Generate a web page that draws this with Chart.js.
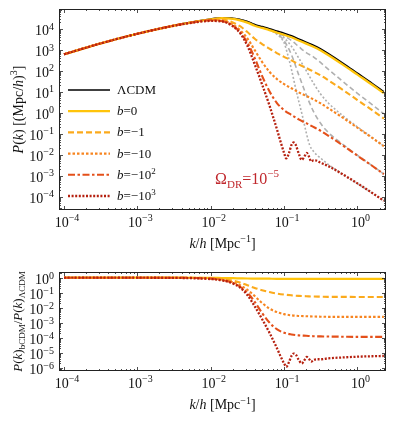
<!DOCTYPE html>
<html>
<head>
<meta charset="utf-8">
<script src="https://cdn.jsdelivr.net/npm/chart.js@4.4.0/dist/chart.umd.min.js"></script>
<style>
html, body { margin: 0; padding: 0; background: #fff; }
#wrap { position: relative; width: 399px; height: 423px; }
#top { position: absolute; left: 0; top: 0; }
#bot { position: absolute; left: 0; top: 255px; }
</style>
</head>
<body>
<div id="wrap">
  <canvas id="top" width="399" height="255"></canvas>
  <canvas id="bot" width="399" height="168"></canvas>
</div>
<script>
// k/h [Mpc^-1] sample points
const kGrid = [1e-4, 3.16e-4, 1e-3, 3.16e-3, 6.31e-3, 0.01, 0.0141, 0.02, 0.0251, 0.0316, 0.0398, 0.0501, 0.0631,
    0.0794, 0.1, 0.126, 0.158, 0.2, 0.251, 0.316, 0.398, 0.631, 1, 1.585, 2.29];
const kFine = [1e-4, 3.16e-4, 1e-3, 3.16e-3, 6.31e-3, 0.01, 0.0141, 0.02, 0.0251, 0.0316, 0.0398, 0.0501, 0.0631,
    0.0708, 0.0794, 0.0891, 0.1, 0.107, 0.117, 0.126, 0.135, 0.145, 0.158, 0.174, 0.191, 0.204, 0.219, 0.234,
    0.251, 0.275, 0.316, 0.398, 0.631, 1, 1.585, 2.29];
const kGray = [0.01, 0.0141, 0.02, 0.0251, 0.0316, 0.0398, 0.0501, 0.0631, 0.0794, 0.1, 0.126, 0.158, 0.2,
    0.251, 0.316, 0.398, 0.631, 1, 1.585, 2.29];
const kGrayFine = [0.01, 0.0141, 0.02, 0.0251, 0.0316, 0.0398, 0.0501, 0.0631, 0.0794, 0.1, 0.112, 0.126, 0.141,
    0.158, 0.178, 0.2, 0.224, 0.251, 0.282, 0.316, 0.398, 0.631, 1, 1.585, 2.29];

// P(k) [(Mpc/h)^3], top panel
const pLCDM = [603, 1995, 5754, 14125, 22390, 28840, 33110, 31620, 27540, 21880, 15850, 12590, 10000, 7762, 6026,
    4571, 3236, 2291, 1622, 1072, 661, 229, 75.9, 25.1, 10.0];
const pB0 = [603, 1995, 5754, 14125, 22130, 28180, 31620, 29510, 25120, 19500, 13960, 10960, 8610, 6607, 5129,
    3890, 2754, 1950, 1380, 912, 562, 195, 64.6, 21.4, 8.51];
const pB1 = [603, 1995, 5754, 14125, 21880, 26920, 27540, 19950, 13180, 6918, 3311, 1862, 1122, 692, 457,
    309, 200, 135, 91.2, 58.9, 35.5, 12.3, 3.98, 1.32, 0.525];
const pB10 = [603, 1995, 5754, 14125, 21380, 25700, 24550, 15850, 8710, 3467, 955, 263, 89.1, 40.7, 22.9,
    14.5, 9.33, 6.31, 4.27, 2.75, 1.66, 0.575, 0.191, 0.0631, 0.0251];
const pB100 = [603, 1995, 5754, 14125, 21380, 25120, 23440, 14125, 6918, 2188, 398, 56.2, 10.5, 2.95, 1.32,
    0.776, 0.479, 0.316, 0.209, 0.135, 0.0813, 0.0275, 0.00891, 0.00295, 0.00117];
const pB1000 = [603, 1995, 5754, 13800, 20420, 23440, 22390, 13180, 6166, 1549, 199.5, 22.4, 2.24, 0.631, 0.174,
    0.0437, 0.0120, 0.00661, 0.0123, 0.0288, 0.0380, 0.0282, 0.0115, 0.00562, 0.00871, 0.0120, 0.00794, 0.00479,
    0.00537, 0.00525, 0.00407, 0.00288, 0.00115, 4.27e-4, 1.51e-4, 6.31e-5];
// grey companion curves
const pGrey1 = [28840, 33110, 31620, 27540, 21380, 15140, 11750, 8913, 6457, 4467, 2754, 1413, 724, 457, 240,
    120, 30.9, 8.32, 2.40, 0.871];
const pGrey10 = [28840, 33110, 31620, 27540, 21880, 15490, 12020, 9120, 6310, 3631, 1445, 407, 102, 25.7, 7.59,
    2.95, 0.724, 0.209, 0.0661, 0.0251];
const pGrey100 = [28840, 33110, 31620, 27540, 21880, 15490, 12020, 8913, 5888, 2692, 575, 64.6, 7.24, 1.15, 0.302,
    0.117, 0.0309, 0.00933, 0.00302, 0.00117];
const pGrey1000 = [28840, 33110, 31620, 27540, 21380, 15490, 11750, 8710, 5495, 2138, 589, 115, 19.5, 3.63, 0.692,
    0.115, 0.0275, 0.0145, 0.00933, 0.00676, 0.00347, 0.00115, 4.17e-4, 1.48e-4, 6.17e-5];

// P(k)_bCDM / P(k)_LCDM, bottom panel
const rB0 = [1, 1, 1, 1, 0.99, 0.98, 0.955, 0.93, 0.91, 0.89, 0.88, 0.87, 0.86, 0.85, 0.85, 0.85, 0.85, 0.85,
    0.85, 0.85, 0.85, 0.85, 0.85, 0.85, 0.85];
const rB1 = [1, 1, 1, 1, 0.977, 0.933, 0.832, 0.631, 0.479, 0.316, 0.209, 0.148, 0.112, 0.0891, 0.0759, 0.0676,
    0.0617, 0.0589, 0.0562, 0.0550, 0.0537, 0.0537, 0.0525, 0.0525, 0.0525];
const rB10 = [1, 1, 1, 1, 0.955, 0.891, 0.741, 0.501, 0.316, 0.158, 0.0603, 0.0209, 0.00891, 0.00525, 0.0038,
    0.00316, 0.00288, 0.00275, 0.00263, 0.00257, 0.00251, 0.00251, 0.00251, 0.00251, 0.00251];
const rB100 = [1, 1, 1, 1, 0.955, 0.871, 0.708, 0.447, 0.251, 0.1, 0.0251, 0.00447, 0.00105, 3.8e-4, 2.19e-4,
    1.7e-4, 1.48e-4, 1.38e-4, 1.29e-4, 1.26e-4, 1.23e-4, 1.2e-4, 1.17e-4, 1.17e-4, 1.17e-4];
const rB1000 = [1, 1, 1, 0.977, 0.912, 0.813, 0.676, 0.417, 0.224, 0.0708, 0.0126, 1.78e-3, 2.24e-4, 7.08e-5,
    2.24e-5, 6.31e-6, 2.0e-6, 1.2e-6, 2.51e-6, 6.31e-6, 9.12e-6, 7.59e-6, 3.55e-6, 2.0e-6, 3.55e-6, 5.37e-6,
    3.98e-6, 2.63e-6, 3.31e-6, 3.80e-6, 3.80e-6, 4.37e-6, 5.01e-6, 5.62e-6, 6.03e-6, 6.31e-6];

// ticks (base^exponent)
const xTickVals = [1e-4, 1e-3, 1e-2, 1e-1, 1];
const xTickText = ['10^−4', '10^−3', '10^−2', '10^−1', '10^0'];
const pTickVals = [1e-4, 1e-3, 1e-2, 1e-1, 1, 10, 100, 1e3, 1e4];
const pTickText = ['10^−4', '10^−3', '10^−2', '10^−1', '10^0', '10^1', '10^2', '10^3', '10^4'];
const rTickVals = [1e-6, 1e-5, 1e-4, 1e-3, 1e-2, 1e-1, 1];
const rTickText = ['10^−6', '10^−5', '10^−4', '10^−3', '10^−2', '10^−1', '10^0'];

const FONT = '"Liberation Serif", "DejaVu Serif", serif';
const grey = '#b0b0b0';
const colors = { lcdm: '#000000', b0: '#ffc40a', b1: '#fbaa1c', b10: '#f7841f', b100: '#e4501a', b1000: '#b5200f' };

function pts(ks, vals) {
    return ks.map((k, i) => ({ x: k, y: vals[i] }));
}

function line(label, ks, vals, color, width, dash, rank) {
    return {
        label: label, data: pts(ks, vals), borderColor: color, borderWidth: width, borderDash: dash,
        pointRadius: 0, fill: false, cubicInterpolationMode: 'monotone', legendRank: rank
    };
}

function drawRuns(ctx, runs, cx, cy, size, color, rotate, align) {
    const fontOf = r => (r.i ? 'italic ' : '') + (r.s ? Math.round(size * 0.7) : size) + 'px ' + FONT;
    const widths = runs.map(r => { ctx.font = fontOf(r); return ctx.measureText(r.t).width; });
    const total = widths.reduce((a, b) => a + b, 0);
    ctx.save();
    ctx.translate(cx, cy);
    if (rotate) ctx.rotate(-Math.PI / 2);
    ctx.fillStyle = color;
    ctx.textAlign = 'left';
    ctx.textBaseline = 'alphabetic';
    let x = align === 'left' ? 0 : align === 'right' ? -total : -total / 2;
    runs.forEach((r, i) => {
        ctx.font = fontOf(r);
        const dy = r.s === 1 ? -size * 0.4 : r.s === -1 ? size * 0.25 : 0;
        ctx.fillText(r.t, x, size * 0.35 + dy);
        x += widths[i];
    });
    ctx.restore();
}

function powRuns(txt) {
    const [base, exp] = txt.split('^');
    return [{ t: base }, { t: exp, s: 1 }];
}

function logSteps(min, max) {
    const out = [];
    for (let e = Math.floor(Math.log10(min)); e <= Math.ceil(Math.log10(max)); e++) {
        for (let m = 1; m < 10; m++) {
            const v = m * Math.pow(10, e);
            if (v >= min && v <= max) out.push([v, m === 1]);
        }
    }
    return out;
}

// frame with inward ticks on all four sides, plus tick labels
const frameTicks = {
    id: 'frameTicks',
    afterDatasetsDraw(chart) {
        const { ctx, chartArea: a, scales } = chart;
        const cfg = chart.config._config.deco;
        ctx.save();
        ctx.strokeStyle = '#222';
        ctx.lineWidth = 0.8;
        ctx.beginPath();
        logSteps(scales.x.min, scales.x.max).forEach(([v, major]) => {
            const px = Math.round(scales.x.getPixelForValue(v)) + 0.5;
            const len = major ? 4 : 2;
            ctx.moveTo(px, a.bottom); ctx.lineTo(px, a.bottom - len);
            ctx.moveTo(px, a.top); ctx.lineTo(px, a.top + len);
        });
        logSteps(scales.y.min, scales.y.max).forEach(([v, major]) => {
            const py = Math.round(scales.y.getPixelForValue(v)) + 0.5;
            const len = major ? 4 : 2;
            ctx.moveTo(a.left, py); ctx.lineTo(a.left + len, py);
            ctx.moveTo(a.right, py); ctx.lineTo(a.right - len, py);
        });
        ctx.stroke();
        ctx.lineWidth = 1;
        ctx.strokeRect(a.left + 0.5, a.top + 0.5, a.right - a.left - 1, a.bottom - a.top - 1);
        ctx.restore();

        scales.x.ticks.forEach((t, i) => {
            drawRuns(ctx, powRuns(cfg.xText[i]), scales.x.getPixelForValue(t.value) + 3, a.bottom + 12, 14, '#111', false);
        });
        scales.y.ticks.forEach((t, i) => {
            drawRuns(ctx, powRuns(cfg.yText[i]), a.left - 5, scales.y.getPixelForValue(t.value) + 1.5, 14, '#111', false, 'right');
        });
    }
};

// axis titles, note and legend
const xTitle = [{ t: 'k', i: 1 }, { t: '/' }, { t: 'h', i: 1 }, { t: ' [Mpc' }, { t: '−1', s: 1 }, { t: ']' }];
const pTitle = [{ t: 'P', i: 1 }, { t: '(' }, { t: 'k', i: 1 }, { t: ') [(Mpc/' }, { t: 'h', i: 1 }, { t: ')' },
    { t: '3', s: 1 }, { t: ']' }];
const rTitle = [{ t: 'P', i: 1 }, { t: '(' }, { t: 'k', i: 1 }, { t: ')' }, { t: 'bCDM', s: -1 }, { t: '/' },
    { t: 'P', i: 1 }, { t: '(' }, { t: 'k', i: 1 }, { t: ')' }, { t: 'ΛCDM', s: -1 }];
const omegaNote = [{ t: 'Ω' }, { t: 'DR', s: -1 }, { t: '=10' }, { t: '−5', s: 1 }];

const deco = {
    id: 'deco',
    afterDraw(chart) {
        const ctx = chart.ctx;
        const a = chart.chartArea;
        const cfg = chart.config._config.deco;
        const mid = (a.left + a.right) / 2;
        drawRuns(ctx, xTitle, mid, cfg.xTitleY, 14, '#111', false);
        drawRuns(ctx, cfg.yTitle, cfg.yTitleX, (a.top + a.bottom) / 2, cfg.yTitleSize, '#111', true);
        if (cfg.note) drawRuns(ctx, omegaNote, 247, 178, 16, '#c0282d', false);
        if (cfg.legend) {
            const items = chart.data.datasets.filter(d => d.legendRank).sort((p, q) => p.legendRank - q.legendRank);
            items.forEach((d, i) => {
                const y = 90 + i * 21.2;
                ctx.save();
                ctx.strokeStyle = d.borderColor;
                ctx.lineWidth = d.borderWidth;
                ctx.setLineDash(d.borderDash || []);
                ctx.beginPath();
                ctx.moveTo(68, y); ctx.lineTo(110, y);
                ctx.stroke();
                ctx.restore();
                let runs = [{ t: d.label }];
                if (d.label.startsWith('b')) {
                    const rest = d.label.slice(1).split('^');
                    runs = [{ t: 'b', i: 1 }, { t: rest[0] }];
                    if (rest[1]) runs.push({ t: rest[1], s: 1 });
                }
                drawRuns(ctx, runs, 117, y - 0.5, 13, '#111', false, 'left');
            });
        }
    }
};

function logAxis(min, max, vals, fitSize, horizontal) {
    return {
        type: 'logarithmic', min: min, max: max, bounds: 'data',
        grid: { display: false }, border: { display: false },
        ticks: { display: false, autoSkip: false },
        afterBuildTicks: s => { s.ticks = vals.map(v => ({ value: v })); },
        afterFit: s => {
            if (horizontal) s.height = fitSize; else s.width = fitSize;
            s.paddingTop = 0; s.paddingBottom = 0; s.paddingLeft = 0; s.paddingRight = 0;
        }
    };
}

const dash = { b1: [6, 3], b10: [2.5, 2], b100: [7, 2.5, 2.5, 2.5], b1000: [2, 1.6], g1: [5, 3], g10: [2, 2] };

new Chart(document.getElementById('top'), {
    type: 'line',
    data: {
        datasets: [
            line('b=−10^3', kFine, pB1000, colors.b1000, 2.3, dash.b1000, 6),
            line('b=−10^2', kGrid, pB100, colors.b100, 2.1, dash.b100, 5),
            line('b=−10', kGrid, pB10, colors.b10, 2.1, dash.b10, 4),
            line('b=−1', kGrid, pB1, colors.b1, 2.1, dash.b1, 3),
            line('b=0', kGrid, pB0, colors.b0, 2.2, [], 2),
            line('ΛCDM', kGrid, pLCDM, colors.lcdm, 1.6, [], 1),
            line('grey b=−1', kGray, pGrey1, grey, 1.6, dash.g1, 0),
            line('grey b=−10', kGray, pGrey10, grey, 1.6, dash.g10, 0),
            line('grey b=−10^2', kGray, pGrey100, grey, 1.6, dash.g1, 0),
            line('grey b=−10^3', kGrayFine, pGrey1000, grey, 1.6, dash.g10, 0)
        ]
    },
    options: {
        responsive: false, animation: false, events: [],
        layout: { padding: { left: 0, right: 13, top: 9, bottom: 0 } },
        plugins: { legend: { display: false }, tooltip: { enabled: false } },
        scales: {
            x: logAxis(8.55e-5, 2.45, xTickVals, 45, true),
            y: logAxis(2.3e-5, 8.7e4, pTickVals, 59, false)
        }
    },
    deco: { xTitleY: 243, yTitle: pTitle, yTitleX: 18, yTitleSize: 14, note: true, legend: true,
        xText: xTickText, yText: pTickText },
    plugins: [frameTicks, deco]
});

new Chart(document.getElementById('bot'), {
    type: 'line',
    data: {
        datasets: [
            line('b=−10^3', kFine, rB1000, colors.b1000, 2.3, dash.b1000, 0),
            line('b=−10^2', kGrid, rB100, colors.b100, 2.1, dash.b100, 0),
            line('b=−10', kGrid, rB10, colors.b10, 2.1, dash.b10, 0),
            line('b=−1', kGrid, rB1, colors.b1, 2.1, dash.b1, 0),
            line('b=0', kGrid, rB0, colors.b0, 2.2, [], 0)
        ]
    },
    options: {
        responsive: false, animation: false, events: [],
        layout: { padding: { left: 0, right: 13, top: 17, bottom: 0 } },
        plugins: { legend: { display: false }, tooltip: { enabled: false } },
        scales: {
            x: logAxis(8.55e-5, 2.45, xTickVals, 52, true),
            y: logAxis(6.3e-7, 2.4, rTickVals, 59, false)
        }
    },
    deco: { xTitleY: 149.5, yTitle: rTitle, yTitleX: 17, yTitleSize: 13, note: false, legend: false,
        xText: xTickText, yText: rTickText },
    plugins: [frameTicks, deco]
});
</script>
</body>
</html>
